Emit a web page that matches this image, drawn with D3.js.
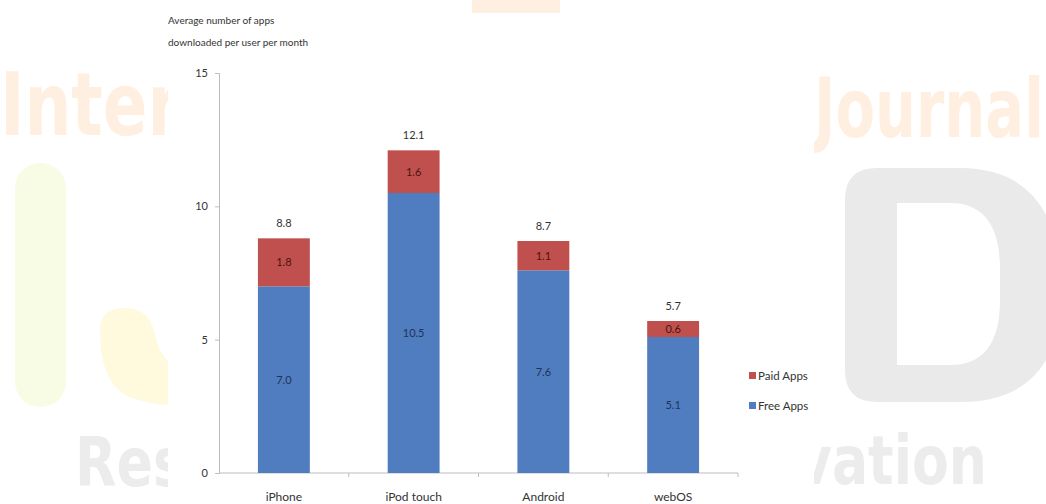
<!DOCTYPE html>
<html><head><meta charset="utf-8">
<script src="https://cdn.jsdelivr.net/npm/d3@7"></script>
<style>body{margin:0;background:#fff}svg{display:block}</style>
</head><body>
<svg id="c" width="1046" height="504"></svg>
<script>
const categories = ["iPhone", "iPod touch", "Android", "webOS"];
const freeApps = [7.0, 10.5, 7.6, 5.1];
const paidApps = [1.8, 1.6, 1.1, 0.6];
const totals = [8.8, 12.1, 8.7, 5.7];
const yTicks = [0, 5, 10, 15];
const seriesNames = ["Free Apps", "Paid Apps"];
const titleLines = ["Average number of apps", "downloaded per user per month"];

const svg = d3.select("#c");
const FONT = "Lato, 'Open Sans', sans-serif";
const WMFONT = "'DejaVu Sans', sans-serif";

// ---- faint watermark background ----
const wm = svg.append("g");
wm.append("rect").attr("x",472).attr("y",0).attr("width",88).attr("height",13).attr("fill","#FFEFE0");
wm.append("rect").attr("x",15).attr("y",163).attr("width",51).attr("height",244).attr("rx",25).attr("fill","#F8FCE4");
wm.append("path").attr("d","M100,330 Q100,308 125,308 Q150,308 155,335 Q162,370 200,380 L200,407 Q150,407 125,395 Q100,380 100,330Z").attr("fill","#FFF9DE");
wm.append("path").attr("d","M845,200 Q845,168 877,168 L960,168 Q1046,168 1060,260 L1060,320 Q1046,402 960,402 L877,402 Q845,402 845,370Z M897,203 L897,365 L950,365 Q1000,365 1000,300 L1000,270 Q1000,203 950,203Z")
  .attr("fill","#EAEAEA").attr("fill-rule","evenodd");
// words sized so their natural width matches the target, then stretched vertically
function wmText(t, x0, yb, capH, width, fill){
  const tx = wm.append("text").text(t).attr("font-family",WMFONT).attr("font-weight","bold")
    .attr("font-size",100).attr("fill",fill);
  const w100 = tx.node().getComputedTextLength();
  const fs = 100 * width / w100;
  const sy = capH / (fs * 0.73);
  tx.attr("font-size",fs).attr("transform",`translate(${x0},${yb}) scale(1,${sy})`);
}
wmText("Inter", 0, 135, 64, 180, "#FFEFE0");
wmText("Journal", 814, 137, 60, 230, "#FFEFE0");
wmText("Res", 75, 486, 50, 110, "#ECECEC");
wmText("vation", 797, 484, 50, 190, "#ECECEC");

// white chart panel covering the watermark
svg.append("rect").attr("x",168).attr("y",13).attr("width",646).attr("height",491).attr("fill","#fff");
svg.append("clipPath").attr("id","panel").append("rect").attr("x",168).attr("y",13).attr("width",646).attr("height",491);

const g = svg.append("g").attr("clip-path","url(#panel)");

const x = d3.scaleBand().domain(categories).range([219, 738]).paddingInner(0.6).paddingOuter(0.3);
const y = d3.scaleLinear().domain([0, 15]).range([473, 73]);

// title
g.append("text").attr("font-family",FONT).attr("font-size",10).attr("fill","#333")
  .selectAll("tspan").data(titleLines).join("tspan").attr("x",168).attr("y",(d,i)=>24+i*22).text(d=>d);

// y axis
const yAxis = g.append("g").attr("transform","translate(219,0)")
  .call(d3.axisLeft(y).tickValues(yTicks).tickSize(4).tickPadding(7).tickFormat(d3.format("d")));
yAxis.select(".domain").attr("stroke","#BDBDBD");
yAxis.selectAll(".tick line").attr("stroke","#BDBDBD");
yAxis.selectAll(".tick text").attr("font-family",FONT).attr("font-size",11).attr("fill","#333");

// x axis with boundary ticks
const xAxisG = g.append("g").attr("transform","translate(0,473)");
xAxisG.append("line").attr("x1",219).attr("x2",738).attr("stroke","#BDBDBD");
const step = x.step();
const bounds = categories.map((c,i)=> x(c) - x.paddingInner()*step/2 + step);
xAxisG.selectAll("line.b").data(bounds).join("line").attr("class","b")
  .attr("x1",d=>d).attr("x2",d=>d).attr("y1",0).attr("y2",4).attr("stroke","#BDBDBD");
xAxisG.selectAll("text").data(categories).join("text")
  .attr("x",d=>x(d)+x.bandwidth()/2).attr("y",28).attr("text-anchor","middle")
  .attr("font-family",FONT).attr("font-size",12).attr("fill","#333").text(d=>d);

// bars
const colors = {"Free Apps":"#4F7DBF","Paid Apps":"#C0504D"};
const labelColors = {"Free Apps":"#1F3458","Paid Apps":"#4A1412"};
categories.forEach((c,i)=>{
  const segs = [
    {name:"Free Apps", y0:0, y1:freeApps[i], v:freeApps[i]},
    {name:"Paid Apps", y0:freeApps[i], y1:freeApps[i]+paidApps[i], v:paidApps[i]}
  ];
  segs.forEach(s=>{
    g.append("rect").attr("x",x(c)).attr("width",x.bandwidth())
      .attr("y",y(s.y1)).attr("height",y(s.y0)-y(s.y1)).attr("fill",colors[s.name]);
    g.append("text").attr("x",x(c)+x.bandwidth()/2).attr("y",(y(s.y0)+y(s.y1))/2+4)
      .attr("text-anchor","middle").attr("font-family",FONT).attr("font-size",11)
      .attr("fill",labelColors[s.name]).text(d3.format(".1f")(s.v));
  });
  g.append("text").attr("x",x(c)+x.bandwidth()/2).attr("y",y(freeApps[i]+paidApps[i])-11)
    .attr("text-anchor","middle").attr("font-family",FONT).attr("font-size",11).attr("fill","#333")
    .text(d3.format(".1f")(totals[i]));
});

// legend
const legendItems = ["Paid Apps","Free Apps"];
const lg = g.append("g");
legendItems.forEach((n,i)=>{
  lg.append("rect").attr("x",749).attr("y",372+i*30).attr("width",7).attr("height",7).attr("fill",colors[n]);
  lg.append("text").attr("x",758).attr("y",380+i*30).attr("font-family",FONT).attr("font-size",11.5).attr("fill","#333").text(n);
});
</script>
</body></html>
